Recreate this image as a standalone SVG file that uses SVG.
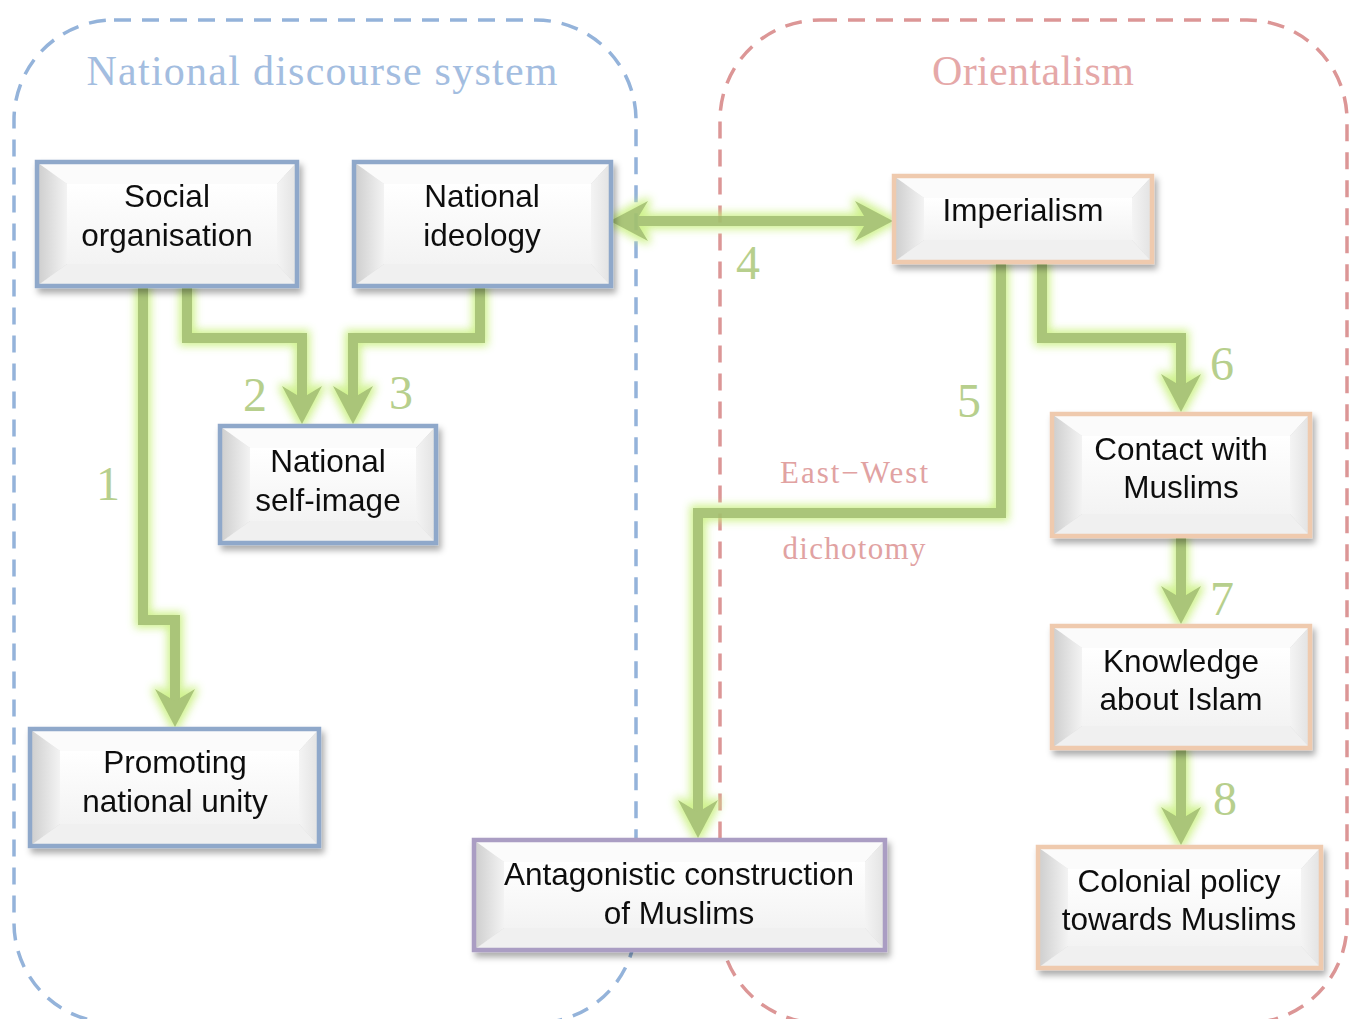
<svg xmlns="http://www.w3.org/2000/svg" width="1355" height="1019" viewBox="0 0 1355 1019">
<defs>
<style>
.cont{fill:none;stroke-width:3.5;stroke-dasharray:17 11}
.title{font-family:"Liberation Serif","DejaVu Serif",serif;font-size:42px;text-anchor:middle}
.num{font-family:"Liberation Serif","DejaVu Serif",serif;font-size:48px;fill:#b7cf8d;text-anchor:middle}
.dich{font-family:"Liberation Serif","DejaVu Serif",serif;font-size:31px;fill:#e1a2a2;text-anchor:middle}
.lbl{font-family:"Liberation Sans",Arial,sans-serif;font-size:31.5px;fill:#111;text-anchor:middle}
.frame{fill:none;stroke-width:4.5}
.blue{stroke:#8fa8ca}
.peach{stroke:#efcaae}
.purple{stroke:#aa9dc3}
.bl{fill:url(#gL)}
.bt{fill:#fbfbfb}
.br{fill:url(#gR)}
.bb{fill:#f0f0f0}
.bc{fill:url(#gC)}
.wire{fill:none;stroke:#a3c16e;stroke-width:10;stroke-linejoin:miter;stroke-linecap:butt}
.head{fill:#a3c16e}
</style>
<linearGradient id="gL" x1="0" y1="0" x2="1" y2="0"><stop offset="0" stop-color="#cdcdcd"/><stop offset="1" stop-color="#f3f3f3"/></linearGradient>
<linearGradient id="gR" x1="0" y1="0" x2="1" y2="0"><stop offset="0" stop-color="#f4f4f4"/><stop offset="1" stop-color="#e2e2e2"/></linearGradient>
<linearGradient id="gC" x1="0" y1="0" x2="0" y2="1"><stop offset="0" stop-color="#ffffff"/><stop offset="1" stop-color="#f3f3f3"/></linearGradient>
<filter id="shadow" x="-10%" y="-10%" width="125%" height="135%">
<feDropShadow dx="3" dy="5" stdDeviation="3" flood-color="#000" flood-opacity="0.33"/>
</filter>
<filter id="glow" filterUnits="userSpaceOnUse" x="0" y="0" width="1355" height="1019">
<feMorphology in="SourceAlpha" operator="dilate" radius="3" result="d"/>
<feGaussianBlur in="d" stdDeviation="4" result="b"/>
<feFlood flood-color="#c9f07f" flood-opacity="0.95"/>
<feComposite in2="b" operator="in" result="g"/>
<feMerge><feMergeNode in="g"/><feMergeNode in="SourceGraphic"/></feMerge>
</filter>
</defs>

<g id="containers">
<g id="national-discourse-system">
<rect class="cont" x="14" y="20" width="622" height="1003" rx="100" ry="100" stroke="#94b3da"/>
<text class="title" x="322" y="85" fill="#a3bde0" textLength="471" lengthAdjust="spacing">National discourse system</text>
</g>
<g id="orientalism">
<rect class="cont" x="720" y="20" width="627" height="1003" rx="100" ry="100" stroke="#dc9696"/>
<text class="title" x="1033" y="85" fill="#e5a8a8" textLength="202" lengthAdjust="spacing">Orientalism</text>
</g>
</g>

<g id="connectors" filter="url(#glow)" opacity="0.92">
<path class="wire" d="M143,288 V620 H175 V703"/>
<polygon class="head" points="175,727 155,689 175,701 195,689"/>
<path class="wire" d="M187,288 V338 H302 V400"/>
<polygon class="head" points="302,424 282,386 302,398 322,386"/>
<path class="wire" d="M480,288 V338 H353 V400"/>
<polygon class="head" points="353,424 333,386 353,398 373,386"/>
<path class="wire" d="M634,221 H869"/>
<polygon class="head" points="610,221 648,201 636,221 648,241"/>
<polygon class="head" points="893,221 855,201 867,221 855,241"/>
<path class="wire" d="M1001,264 V513 H698 V814"/>
<polygon class="head" points="698,838 678,800 698,812 718,800"/>
<path class="wire" d="M1042,264 V338 H1181 V388"/>
<polygon class="head" points="1181,412 1161,374 1181,386 1201,374"/>
<path class="wire" d="M1181,538 V600"/>
<polygon class="head" points="1181,624 1161,586 1181,598 1201,586"/>
<path class="wire" d="M1181,750 V821"/>
<polygon class="head" points="1181,845 1161,807 1181,819 1201,807"/>
</g>

<g id="connector-labels">
<text class="num" x="108" y="500">1</text>
<text class="num" x="255" y="411">2</text>
<text class="num" x="401" y="409">3</text>
<text class="num" x="748" y="279">4</text>
<text class="num" x="969" y="417">5</text>
<text class="num" x="1222" y="380">6</text>
<text class="num" x="1222" y="615">7</text>
<text class="num" x="1225" y="815">8</text>
<text class="dich" x="854" y="483" textLength="148" lengthAdjust="spacing">East−West</text>
<text class="dich" x="854" y="559" textLength="143" lengthAdjust="spacing">dichotomy</text>
</g>

<g id="social-organisation" filter="url(#shadow)">
<polygon class="bl" points="37,162 67,184 67,264 37,286"/>
<polygon class="bt" points="37,162 297,162 277,184 67,184"/>
<polygon class="br" points="297,162 297,286 277,264 277,184"/>
<polygon class="bb" points="37,286 67,264 277,264 297,286"/>
<rect class="bc" x="67" y="184" width="210" height="80"/>
<rect class="frame blue" x="37" y="162" width="260" height="124"/>
<text class="lbl" x="167" y="207">Social</text>
<text class="lbl" x="167" y="246">organisation</text>
</g>

<g id="national-ideology" filter="url(#shadow)">
<polygon class="bl" points="354,162 384,184 384,264 354,286"/>
<polygon class="bt" points="354,162 611,162 591,184 384,184"/>
<polygon class="br" points="611,162 611,286 591,264 591,184"/>
<polygon class="bb" points="354,286 384,264 591,264 611,286"/>
<rect class="bc" x="384" y="184" width="207" height="80"/>
<rect class="frame blue" x="354" y="162" width="257" height="124"/>
<text class="lbl" x="482" y="207">National</text>
<text class="lbl" x="482" y="246">ideology</text>
</g>

<g id="national-self-image" filter="url(#shadow)">
<polygon class="bl" points="220,426 250,448 250,521 220,543"/>
<polygon class="bt" points="220,426 436,426 416,448 250,448"/>
<polygon class="br" points="436,426 436,543 416,521 416,448"/>
<polygon class="bb" points="220,543 250,521 416,521 436,543"/>
<rect class="bc" x="250" y="448" width="166" height="73"/>
<rect class="frame blue" x="220" y="426" width="216" height="117"/>
<text class="lbl" x="328" y="472">National</text>
<text class="lbl" x="328" y="511">self-image</text>
</g>

<g id="promoting-national-unity" filter="url(#shadow)">
<polygon class="bl" points="30,729 60,751 60,824 30,846"/>
<polygon class="bt" points="30,729 319,729 299,751 60,751"/>
<polygon class="br" points="319,729 319,846 299,824 299,751"/>
<polygon class="bb" points="30,846 60,824 299,824 319,846"/>
<rect class="bc" x="60" y="751" width="239" height="73"/>
<rect class="frame blue" x="30" y="729" width="289" height="117"/>
<text class="lbl" x="175" y="773">Promoting</text>
<text class="lbl" x="175" y="812">national unity</text>
</g>

<g id="antagonistic-construction" filter="url(#shadow)">
<polygon class="bl" points="474,840 504,862 504,928 474,950"/>
<polygon class="bt" points="474,840 885,840 865,862 504,862"/>
<polygon class="br" points="885,840 885,950 865,928 865,862"/>
<polygon class="bb" points="474,950 504,928 865,928 885,950"/>
<rect class="bc" x="504" y="862" width="361" height="66"/>
<rect class="frame purple" x="474" y="840" width="411" height="110"/>
<text class="lbl" x="679" y="885">Antagonistic construction</text>
<text class="lbl" x="679" y="924">of Muslims</text>
</g>

<g id="imperialism" filter="url(#shadow)">
<polygon class="bl" points="894,176 924,198 924,240 894,262"/>
<polygon class="bt" points="894,176 1152,176 1132,198 924,198"/>
<polygon class="br" points="1152,176 1152,262 1132,240 1132,198"/>
<polygon class="bb" points="894,262 924,240 1132,240 1152,262"/>
<rect class="bc" x="924" y="198" width="208" height="42"/>
<rect class="frame peach" x="894" y="176" width="258" height="86"/>
<text class="lbl" x="1023" y="221">Imperialism</text>
</g>

<g id="contact-with-muslims" filter="url(#shadow)">
<polygon class="bl" points="1052,414 1082,436 1082,514 1052,536"/>
<polygon class="bt" points="1052,414 1310,414 1290,436 1082,436"/>
<polygon class="br" points="1310,414 1310,536 1290,514 1290,436"/>
<polygon class="bb" points="1052,536 1082,514 1290,514 1310,536"/>
<rect class="bc" x="1082" y="436" width="208" height="78"/>
<rect class="frame peach" x="1052" y="414" width="258" height="122"/>
<text class="lbl" x="1181" y="460">Contact with</text>
<text class="lbl" x="1181" y="498">Muslims</text>
</g>

<g id="knowledge-about-islam" filter="url(#shadow)">
<polygon class="bl" points="1052,626 1082,648 1082,726 1052,748"/>
<polygon class="bt" points="1052,626 1310,626 1290,648 1082,648"/>
<polygon class="br" points="1310,626 1310,748 1290,726 1290,648"/>
<polygon class="bb" points="1052,748 1082,726 1290,726 1310,748"/>
<rect class="bc" x="1082" y="648" width="208" height="78"/>
<rect class="frame peach" x="1052" y="626" width="258" height="122"/>
<text class="lbl" x="1181" y="672">Knowledge</text>
<text class="lbl" x="1181" y="710">about Islam</text>
</g>

<g id="colonial-policy" filter="url(#shadow)">
<polygon class="bl" points="1038,847 1068,869 1068,946 1038,968"/>
<polygon class="bt" points="1038,847 1321,847 1301,869 1068,869"/>
<polygon class="br" points="1321,847 1321,968 1301,946 1301,869"/>
<polygon class="bb" points="1038,968 1068,946 1301,946 1321,968"/>
<rect class="bc" x="1068" y="869" width="233" height="77"/>
<rect class="frame peach" x="1038" y="847" width="283" height="121"/>
<text class="lbl" x="1179" y="892">Colonial policy</text>
<text class="lbl" x="1179" y="930">towards Muslims</text>
</g>
</svg>
